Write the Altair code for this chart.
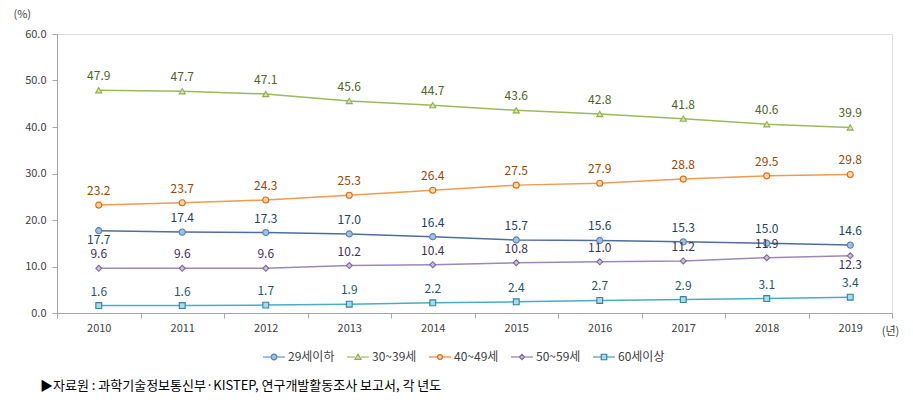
import altair as alt
import pandas as pd

years = ['2010', '2011', '2012', '2013', '2014', '2015', '2016', '2017', '2018', '2019']
series = ['29세이하', '30~39세', '40~49세', '50~59세', '60세이상']
v_29 = [17.7, 17.4, 17.3, 17.0, 16.4, 15.7, 15.6, 15.3, 15.0, 14.6]
v_30 = [47.9, 47.7, 47.1, 45.6, 44.7, 43.6, 42.8, 41.8, 40.6, 39.9]
v_40 = [23.2, 23.7, 24.3, 25.3, 26.4, 27.5, 27.9, 28.8, 29.5, 29.8]
v_50 = [9.6, 9.6, 9.6, 10.2, 10.4, 10.8, 11.0, 11.2, 11.9, 12.3]
v_60 = [1.6, 1.6, 1.7, 1.9, 2.2, 2.4, 2.7, 2.9, 3.1, 3.4]
values = [v_29, v_30, v_40, v_50, v_60]
# labels drawn under the point instead of above
labels_below = [('29세이하', '2010'), ('50~59세', '2019')]

line_colors = ['#4E6E9E', '#9BBB59', '#F39A4E', '#9C88BC', '#4BACC6']
marker_stroke = ['#4F81BD', '#8EB04A', '#E46C0A', '#8064A2', '#31859C']
marker_fill = ['#A7BFDE', '#D7E4BD', '#FCD5B4', '#CCC1DA', '#A5DDEA']
label_colors = ['#243F60', '#4F6228', '#974706', '#403152', '#215968']
marker_shapes = ['circle', 'triangle-up', 'circle', 'diamond', 'square']
marker_sizes = [38, 34, 26, 26, 44]
legend_shapes = [
    'M-1,0H-0.26M0.26,0H1M-0.26,0A0.26,0.26,0,1,1,0.26,0A0.26,0.26,0,1,1,-0.26,0Z',
    'M-1,0H-0.26M0.26,0H1M0,-0.26L0.28,0.22L-0.28,0.22Z',
    'M-1,0H-0.22M0.22,0H1M-0.22,0A0.22,0.22,0,1,1,0.22,0A0.22,0.22,0,1,1,-0.22,0Z',
    'M-1,0H-0.24M0.24,0H1M0,-0.24L0.24,0L0,0.24L-0.24,0Z',
    'M-1,0H-0.25M0.25,0H1M-0.25,-0.25H0.25V0.25H-0.25Z',
]

rows = []
for s, vals in zip(series, values):
    for y, v in zip(years, vals):
        rows.append({
            'year': y, 'series': s, 'series_l': s, 'value': v,
            'label': f'{v:.1f}',
            'pos': 'below' if (s, y) in labels_below else 'above',
        })
df = pd.DataFrame(rows)

FONT = 'Noto Sans CJK KR'

x_enc = alt.X('year:N', sort=years,
              scale=alt.Scale(type='band', paddingInner=0, paddingOuter=0),
              axis=alt.Axis(tickBand='extent', labelAngle=0, grid=False,
                            domainColor='#A6A6A6', tickColor='#A6A6A6', tickSize=5,
                            labelPadding=4, labelFontSize=11, labelColor='#404040',
                            labelFont=FONT, title='(년)', titleFont=FONT,
                            titleFontSize=11, titleFontWeight='normal',
                            titleColor='#404040', titleX=833, titleY=12,
                            titleBaseline='top'))
y_enc = alt.Y('value:Q', scale=alt.Scale(domain=[0, 60]),
              axis=alt.Axis(values=[0, 10, 20, 30, 40, 50, 60], format='.1f',
                            grid=False, domainColor='#A6A6A6', tickColor='#A6A6A6',
                            tickSize=5, labelPadding=6, labelFontSize=11,
                            labelColor='#404040', labelFont=FONT,
                            title='(%)', titleAngle=0, titleX=-44, titleY=-20,
                            titleAlign='left', titleBaseline='middle',
                            titleFont=FONT, titleFontSize=11,
                            titleFontWeight='normal', titleColor='#404040'))

base = alt.Chart(df)

lines = base.mark_line(strokeWidth=1.5).encode(
    x=x_enc, y=y_enc,
    stroke=alt.Stroke('series:N', scale=alt.Scale(domain=series, range=line_colors), legend=None),
    detail='series:N',
)

points = base.mark_point(filled=False, strokeWidth=1.1, opacity=1).encode(
    x=x_enc, y=y_enc,
    shape=alt.Shape('series:N', scale=alt.Scale(domain=series, range=marker_shapes), legend=None),
    stroke=alt.Stroke('series:N', scale=alt.Scale(domain=series, range=marker_stroke), legend=None),
    fill=alt.Fill('series:N', scale=alt.Scale(domain=series, range=marker_fill), legend=None),
    size=alt.Size('series:N', scale=alt.Scale(domain=series, range=marker_sizes), legend=None),
)

text_above = base.transform_filter(alt.datum.pos == 'above').mark_text(
    dy=-14, fontSize=12, font=FONT).encode(
    x=x_enc, y=y_enc, text='label:N',
    color=alt.Color('series:N', scale=alt.Scale(domain=series, range=label_colors), legend=None),
)
text_below = base.transform_filter(alt.datum.pos == 'below').mark_text(
    dy=9, fontSize=12, font=FONT).encode(
    x=x_enc, y=y_enc, text='label:N',
    color=alt.Color('series:N', scale=alt.Scale(domain=series, range=label_colors), legend=None),
)

legend_layer = base.mark_point(opacity=0, filled=False).encode(
    x=x_enc, y=y_enc,
    shape=alt.Shape('series_l:N', scale=alt.Scale(domain=series, range=legend_shapes),
                    legend=alt.Legend(title=None, orient='none', direction='horizontal',
                                      legendX=205, legendY=311, symbolSize=484,
                                      symbolOpacity=1, symbolStrokeWidth=1.2,
                                      labelFont=FONT, labelFontSize=12,
                                      labelColor='#404040', labelOffset=2,
                                      columnPadding=9)),
    stroke=alt.Stroke('series_l:N', scale=alt.Scale(domain=series, range=marker_stroke),
                      legend=alt.Legend(title=None, orient='none')),
    fill=alt.Fill('series_l:N', scale=alt.Scale(domain=series, range=marker_fill),
                  legend=alt.Legend(title=None, orient='none')),
)

chart = alt.layer(lines, points, text_above, text_below, legend_layer).resolve_scale(
    stroke='independent', fill='independent', shape='independent',
    color='independent', size='independent',
).properties(
    width=835, height=279,
    autosize=alt.AutoSizeParams(type='none'),
    padding={'left': 49, 'top': 26, 'right': 13, 'bottom': 89},
    title=alt.TitleParams('▶자료원 : 과학기술정보통신부·KISTEP, 연구개발활동조사 보고서, 각 년도',
                          orient='bottom', anchor='start', frame='group',
                          font=FONT, fontSize=13, fontWeight='normal',
                          color='#000000', dx=-17, offset=17),
).configure_view(stroke=None).configure(background='white')

chart.save('out.html', embed_options={'renderer': 'svg', 'actions': False})
